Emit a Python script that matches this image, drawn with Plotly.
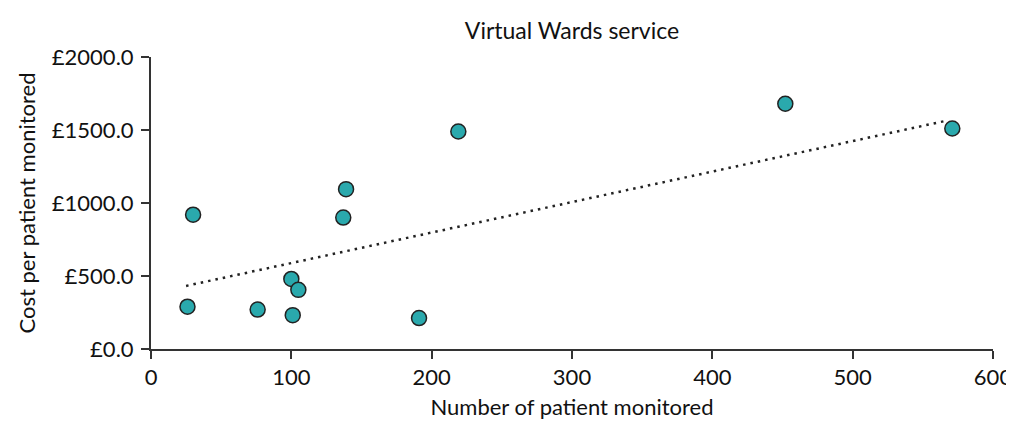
import plotly.graph_objects as go

# patients monitored vs cost per patient
patients = [26, 30, 76, 100, 101, 105, 137, 139, 191, 219, 452, 571]
cost = [290, 920, 270, 480, 232, 405, 900, 1095, 212, 1490, 1680, 1510]

# dotted trend line end points
trend_x = [25, 566]
trend_y = [432, 1562]

x_ticks = [0, 100, 200, 300, 400, 500, 600]
y_ticks = [0, 500, 1000, 1500, 2000]
y_labels = ["\u00a3%.1f" % v for v in y_ticks]

font = "Lato, 'Open Sans', sans-serif"
axis_col = "#333333"

fig = go.Figure()

fig.add_trace(go.Scatter(
    x=trend_x, y=trend_y,
    mode="lines",
    line=dict(color="#222222", width=2.5, dash="2.5px,5px"),
    hoverinfo="skip",
    showlegend=False,
))

fig.add_trace(go.Scatter(
    x=patients, y=cost,
    mode="markers",
    marker=dict(size=15, color="#2aa9ad", line=dict(color="#222222", width=1.5)),
    showlegend=False,
))

# page body has an 8px margin, so the figure is a bit smaller than the window
fig.update_layout(
    width=1006, height=413,
    margin=dict(l=143, r=21, t=49, b=72),
    paper_bgcolor="white",
    plot_bgcolor="white",
    font=dict(family=font, size=22, color="#111111"),
    title=dict(text="Virtual Wards service", x=0.5, xref="paper", xanchor="center",
               y=0.944, yref="container", yanchor="middle",
               font=dict(family=font, size=23, color="#111111")),
)

fig.update_xaxes(
    range=[0, 600], tickvals=x_ticks, automargin=False,
    tickfont=dict(size=22),
    showgrid=False, zeroline=False,
    showline=True, linecolor=axis_col, linewidth=2,
    ticks="outside", ticklen=8, tickwidth=2, tickcolor=axis_col,
    title=dict(text="Number of patient monitored", standoff=10, font=dict(size=22)),
)
fig.update_yaxes(
    range=[0, 2000], tickvals=y_ticks, ticktext=y_labels, automargin=False,
    tickfont=dict(size=22), ticklabelstandoff=3,
    showgrid=False, zeroline=False,
    showline=True, linecolor=axis_col, linewidth=2,
    ticks="outside", ticklen=8, tickwidth=2, tickcolor=axis_col,
    title=dict(text="Cost per patient monitored", standoff=10, font=dict(size=22)),
)

fig.write_html("out.html")
